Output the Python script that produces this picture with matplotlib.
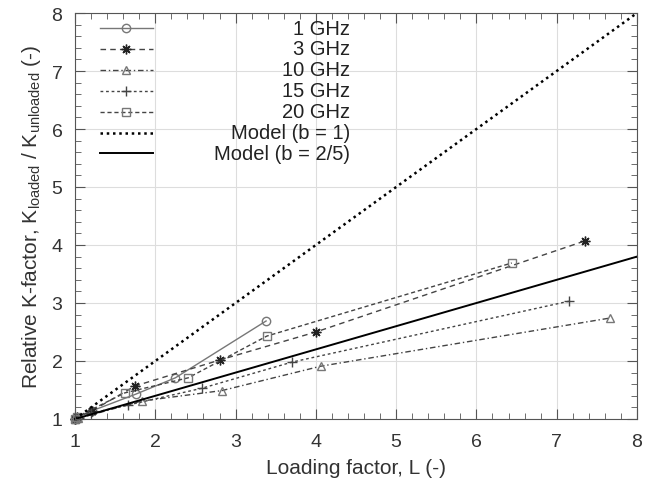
import matplotlib.pyplot as plt
from matplotlib.lines import Line2D
from matplotlib.ticker import MultipleLocator

plt.rcParams['font.family'] = ['Liberation Sans', 'DejaVu Sans']

# measured data (loading factor L, relative K-factor)
L_1ghz = [1.00, 1.02, 1.21, 1.76, 2.25, 3.38]
K_1ghz = [1.00, 1.02, 1.14, 1.43, 1.71, 2.69]

L_3ghz = [1.00, 1.03, 1.21, 1.75, 2.81, 4.00, 7.35]
K_3ghz = [1.00, 1.03, 1.14, 1.57, 2.02, 2.50, 4.07]

L_10ghz = [1.00, 1.04, 1.83, 2.83, 4.06, 7.66]
K_10ghz = [1.00, 1.01, 1.31, 1.49, 1.91, 2.74]

L_15ghz = [1.00, 1.05, 1.20, 1.66, 2.58, 3.70, 7.15]
K_15ghz = [1.00, 1.02, 1.10, 1.24, 1.53, 1.98, 3.03]

L_20ghz = [1.00, 1.03, 1.62, 2.41, 3.39, 6.44]
K_20ghz = [1.00, 1.04, 1.45, 1.71, 2.43, 3.69]

# model lines (end points)
L_model = [1, 8]
K_model_b1 = [1, 8]
K_model_b25 = [1, 3.8]

labels = ['1 GHz', '3 GHz', '10 GHz', '15 GHz', '20 GHz', 'Model (b = 1)', 'Model (b = 2/5)']

gray = '#777777'
dark = '#444444'
styles = [
    dict(color=gray, ls='-', lw=1.0, marker='o', ms=6, mfc='none', mec=gray),
    dict(color=dark, ls=(0, (4, 3)), lw=1.0, marker=(8, 2, 0), ms=7, mec='#222222'),
    dict(color=dark, ls=(0, (4, 2, 1, 2)), lw=1.0, marker='^', ms=6, mfc='none', mec=gray),
    dict(color=dark, ls=(0, (2, 2)), lw=1.0, marker='+', ms=7, mec=dark),
    dict(color=dark, ls=(0, (3, 2)), lw=1.0, marker='s', ms=6, mfc='none', mec=gray),
    dict(color='black', ls=(0, (1, 1.5)), lw=1.8),
    dict(color='black', ls='-', lw=1.4),
]

fig = plt.figure(figsize=(6.62, 4.89), dpi=100)
ax = fig.add_axes([75 / 662, 69 / 489, 562 / 662, 406 / 489])

series = [(L_1ghz, K_1ghz), (L_3ghz, K_3ghz), (L_10ghz, K_10ghz),
          (L_15ghz, K_15ghz), (L_20ghz, K_20ghz),
          (L_model, K_model_b1), (L_model, K_model_b25)]
for (x, y), st in zip(series, styles):
    ax.plot(x, y, clip_on=False, **st)

ax.set_xlim(1, 8)
ax.set_ylim(1, 8)
ax.xaxis.set_major_locator(MultipleLocator(1))
ax.yaxis.set_major_locator(MultipleLocator(1))
ax.xaxis.set_minor_locator(MultipleLocator(0.2))
ax.yaxis.set_minor_locator(MultipleLocator(0.2))
ax.tick_params(which='both', direction='in', top=True, right=True, colors='#555555',
               labelcolor='#333333', labelsize=14)
ax.tick_params(which='major', length=7)
ax.tick_params(which='minor', length=4)
ax.tick_params(axis='x', which='major', pad=10)
ax.tick_params(axis='y', which='major', pad=9)
ax.grid(True, which='major', color='#dddddd', lw=0.8)
ax.set_axisbelow(True)
for s in ax.spines.values():
    s.set_color('#555555')

ax.set_xlabel('Loading factor, L (-)', fontsize=15, color='#333333', labelpad=6)
ax.set_ylabel('Relative K-factor, K$_{\\mathregular{loaded}}$ / K$_{\\mathregular{unloaded}}$ (-)',
              fontsize=15, color='#333333', labelpad=6)

# gnuplot-style key: sample on the left, text right-aligned
for i, (lab, st) in enumerate(zip(labels, styles)):
    yk = 0.963 - i * 0.0515
    st2 = dict(st)
    mk = st2.pop('marker', None)
    ms = st2.pop('ms', None)
    mfc = st2.pop('mfc', None)
    mec = st2.pop('mec', None)
    ax.add_line(Line2D([0.044, 0.139], [yk, yk], transform=ax.transAxes, **st2))
    if mk is not None:
        ax.add_line(Line2D([0.0915], [yk], transform=ax.transAxes, ls='none', marker=mk,
                           ms=ms, mfc=mfc if mfc else mec, mec=mec))
    ax.text(0.489, yk, lab, transform=ax.transAxes, ha='right', va='center',
            fontsize=14.5, color='#222222')

fig.savefig('out.png', dpi=100)
